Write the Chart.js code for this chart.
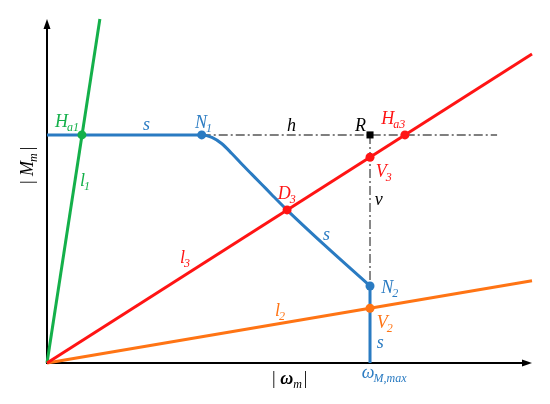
<!DOCTYPE html>
<html>
<head>
<meta charset="utf-8">
<script src="https://cdn.jsdelivr.net/npm/chart.js@4"></script>
<style>
  body { margin: 0; background: #fff; }
  #wrap { width: 550px; height: 404px; }
</style>
</head>
<body>
<div id="wrap"><canvas id="diagram"></canvas></div>
<script>
// characteristic s: plateau, bend after N1, falling part down to N2, then vertical at omega max
const sX = [0, 0.72, 3.19, 3.40, 3.60, 3.81, 4.01, 4.22, 4.43, 4.63, 4.94, 5.69, 6.66];
const sY = [6.63, 6.63, 6.63, 6.56, 6.38, 6.09, 5.79, 5.49, 5.19, 4.90, 4.46, 3.47, 2.24];
const omegaMax = 6.66;
const plateau = 6.63;

// load lines through the origin (end points)
const l1End = [1.09, 10];
const l2End = [10, 2.39];
const l3End = [10, 8.98];
const hEnd = 9.28;

// named points
const pointNames = ["Ha1", "N1", "D3", "R", "V3", "Ha3", "N2", "V2"];
const pointX = [0.72, 3.19, 4.95, 6.66, 6.66, 7.38, 6.66, 6.66];
const pointY = [6.63, 6.63, 4.45, 6.63, 5.98, 6.63, 2.24, 1.59];

const BLUE = "#2a7bc2", GREEN = "#14b04a", RED = "#ff1414", ORANGE = "#ff7414", GREY = "#555";
const pointColors = [GREEN, BLUE, RED, "#000", RED, RED, BLUE, ORANGE];
const pointStyles = ["circle", "circle", "circle", "rect", "circle", "circle", "circle", "circle"];

// text labels: main, subscript, x, y (baseline, data units), colour
const labels = [
  ["H", "a1", 0.165, 6.86, GREEN],
  ["s", "", 1.98, 6.77, BLUE],
  ["N", "1", 3.05, 6.83, BLUE],
  ["h", "", 4.95, 6.74, "#000"],
  ["R", "", 6.35, 6.74, "#000"],
  ["H", "a3", 6.89, 6.95, RED],
  ["V", "3", 6.78, 5.41, RED],
  ["D", "3", 4.76, 4.77, RED],
  ["v", "", 6.76, 4.59, "#000"],
  ["s", "", 5.69, 3.58, BLUE],
  ["N", "2", 6.89, 2.03, BLUE],
  ["V", "2", 6.80, 1.02, ORANGE],
  ["s", "", 6.80, 0.44, BLUE],
  ["l", "1", 0.68, 5.15, GREEN],
  ["l", "3", 2.74, 2.91, RED],
  ["l", "2", 4.70, 1.37, ORANGE],
  ["ω", "M,max", 6.49, -0.44, BLUE]
];

const FONT = '"Liberation Serif", serif';

function richText(ctx, x, y, main, sub, color) {
  ctx.fillStyle = color;
  ctx.textBaseline = "alphabetic";
  ctx.textAlign = "left";
  ctx.font = "italic 18px " + FONT;
  ctx.fillText(main, x, y);
  const w = ctx.measureText(main).width;
  if (sub) {
    ctx.font = "italic 12px " + FONT;
    ctx.fillText(sub, x + w - 1, y + 4);
  }
}

const drawPlugin = {
  id: "drawPlugin",
  beforeDatasetsDraw(chart) {
    const ctx = chart.ctx;
    const xs = chart.scales.x, ys = chart.scales.y;
    const x0 = xs.getPixelForValue(0), y0 = ys.getPixelForValue(0);
    const xr = xs.getPixelForValue(xs.max), yt = ys.getPixelForValue(ys.max);
    ctx.save();
    ctx.strokeStyle = "#000";
    ctx.fillStyle = "#000";
    ctx.lineWidth = 2;
    ctx.beginPath();
    ctx.moveTo(x0, y0);
    ctx.lineTo(x0, yt + 6);
    ctx.moveTo(x0 - 1, y0);
    ctx.lineTo(xr - 6, y0);
    ctx.stroke();
    ctx.beginPath();
    ctx.moveTo(x0, yt);
    ctx.lineTo(x0 - 3.5, yt + 10);
    ctx.lineTo(x0 + 3.5, yt + 10);
    ctx.closePath();
    ctx.fill();
    ctx.beginPath();
    ctx.moveTo(xr, y0);
    ctx.lineTo(xr - 10, y0 - 3.5);
    ctx.lineTo(xr - 10, y0 + 3.5);
    ctx.closePath();
    ctx.fill();
    ctx.restore();
  },
  afterDraw(chart) {
    const ctx = chart.ctx;
    const xs = chart.scales.x, ys = chart.scales.y;
    ctx.save();
    labels.forEach(([m, s, x, y, c]) => {
      richText(ctx, xs.getPixelForValue(x), ys.getPixelForValue(y), m, s, c);
    });
    // x axis title
    const tx = xs.getPixelForValue(4.64), ty = ys.getPixelForValue(-0.61);
    ctx.fillStyle = "#000";
    ctx.font = "18px " + FONT;
    ctx.fillText("|", tx, ty);
    let w = ctx.measureText("| ").width;
    ctx.font = "italic bold 18px " + FONT;
    ctx.fillText("ω", tx + w, ty);
    w += ctx.measureText("ω").width;
    ctx.font = "italic 12px " + FONT;
    ctx.fillText("m", tx + w, ty + 4);
    w += ctx.measureText("m").width + 2;
    ctx.font = "18px " + FONT;
    ctx.fillText("|", tx + w, ty);
    // y axis title (rotated)
    ctx.translate(33, 184);
    ctx.rotate(-Math.PI / 2);
    ctx.font = "18px " + FONT;
    ctx.fillText("|", 0, 0);
    w = ctx.measureText("| ").width;
    ctx.font = "italic 18px " + FONT;
    ctx.fillText("M", w, 0);
    w += ctx.measureText("M").width;
    ctx.font = "italic 12px " + FONT;
    ctx.fillText("m", w - 1, 4);
    w += ctx.measureText("m").width + 2;
    ctx.font = "18px " + FONT;
    ctx.fillText("|", w, 0);
    ctx.restore();
  }
};

const lineDs = (data, color, order, extra) => Object.assign({
  data, borderColor: color, borderWidth: 3, pointRadius: 0, showLine: true,
  fill: false, order, clip: false
}, extra || {});

new Chart(document.getElementById("diagram"), {
  type: "scatter",
  data: {
    datasets: [
      {
        data: pointX.map((x, i) => ({ x, y: pointY[i] })),
        backgroundColor: pointColors,
        borderColor: pointColors,
        pointStyle: pointStyles,
        pointRadius: pointStyles.map(p => p === "rect" ? 5 : 4.5),
        borderWidth: 0,
        order: 0,
        clip: false
      },
      lineDs([{ x: 0, y: 0 }, { x: l3End[0], y: l3End[1] }], RED, 1),
      lineDs([{ x: 0, y: 0 }, { x: l2End[0], y: l2End[1] }], ORANGE, 2),
      lineDs([{ x: 0, y: 0 }, { x: l1End[0], y: l1End[1] }], GREEN, 3),
      lineDs(sX.map((x, i) => ({ x, y: sY[i] })), BLUE, 4, { cubicInterpolationMode: "monotone" }),
      lineDs([{ x: omegaMax, y: sY[sY.length - 1] }, { x: omegaMax, y: 0 }], BLUE, 4),
      lineDs([{ x: pointX[1], y: plateau }, { x: hEnd, y: plateau }], GREY, 5, { borderWidth: 1.4, borderDash: [9, 3, 2, 3] }),
      lineDs([{ x: omegaMax, y: plateau }, { x: omegaMax, y: sY[sY.length - 1] }], GREY, 5, { borderWidth: 1.4, borderDash: [9, 3, 2, 3] })
    ]
  },
  options: {
    responsive: true,
    maintainAspectRatio: false,
    animation: false,
    layout: { padding: { left: 47, right: 18, top: 19, bottom: 41 } },
    plugins: { legend: { display: false }, tooltip: { enabled: false } },
    scales: {
      x: { type: "linear", min: 0, max: 10, display: false },
      y: { type: "linear", min: 0, max: 10, display: false }
    }
  },
  plugins: [drawPlugin]
});
</script>
</body>
</html>
